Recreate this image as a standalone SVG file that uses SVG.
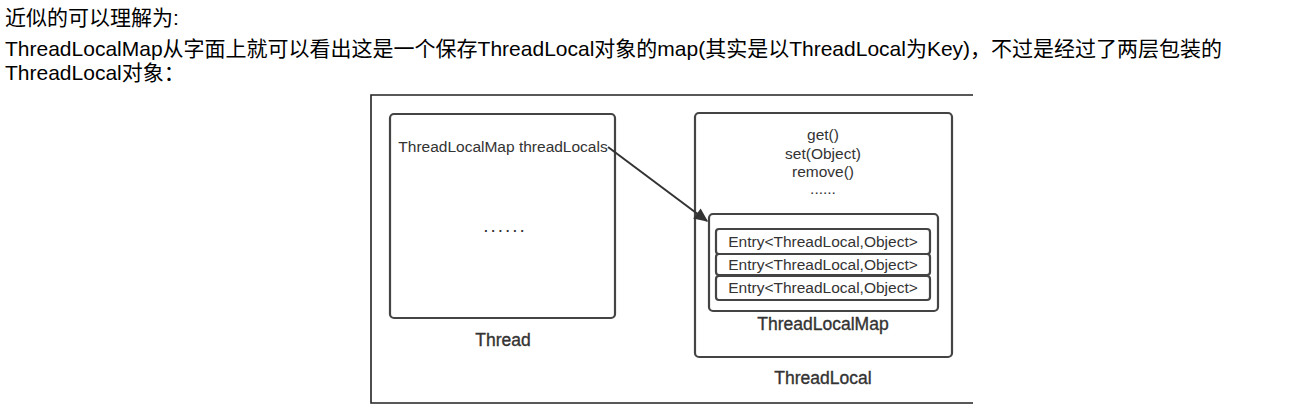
<svg xmlns="http://www.w3.org/2000/svg" width="1313" height="411" viewBox="0 0 1313 411">
<defs>
<style>
.hd{font-family:"Liberation Sans","Noto Sans CJK SC",sans-serif;font-size:21px;fill:#000}
.t{font-family:"Liberation Sans",Arial,sans-serif;fill:#333;text-anchor:middle}
.s{font-size:15.5px}
.l{font-size:17.5px;stroke:#333;stroke-width:0.35}
.box{fill:#fff;stroke:#444;stroke-width:2.2}
.frame{fill:none;stroke:#222;stroke-width:1.6}
.conn{stroke:#333;stroke-width:2;fill:none}
</style>
<marker id="arr" viewBox="0 0 10 10" refX="9" refY="5" markerWidth="8" markerHeight="7" markerUnits="strokeWidth" orient="auto">
<path d="M0,0.5 L10,5 L0,9.5 Z" fill="#333"/>
</marker>
</defs>
<rect width="1313" height="411" fill="#fff"/>
<g id="header">
<text class="hd" x="5" y="25">近似的可以理解为:</text>
<text class="hd" x="5" y="56">ThreadLocalMap从字面上就可以看出这是一个保存ThreadLocal对象的map(其实是以ThreadLocal为Key)，不过是经过了两层包装的</text>
<text class="hd" x="5" y="80">ThreadLocal对象：</text>
</g>
<path class="frame" d="M973,95 H371 V403 H973"/>
<g id="thread">
<rect class="box" x="390" y="114" width="225" height="204" rx="4"/>
<text class="t s" x="503" y="152">ThreadLocalMap threadLocals</text>
<text class="t" x="505" y="232" style="font-size:19px;letter-spacing:2px">......</text>
<text class="t l" x="503" y="346">Thread</text>
</g>
<g id="threadlocal">
<rect class="box" x="695" y="113" width="257" height="244" rx="4"/>
<text class="t s" x="823" y="140">get()</text>
<text class="t s" x="823" y="159">set(Object)</text>
<text class="t s" x="823" y="177">remove()</text>
<text class="t s" x="823" y="194">......</text>
<text class="t l" x="823" y="384">ThreadLocal</text>
</g>
<g id="threadlocalmap">
<rect class="box" x="709" y="214" width="229" height="97" rx="4"/>
<text class="t l" x="823" y="330">ThreadLocalMap</text>
</g>
<g id="entry1">
<rect class="box" x="716" y="229" width="214" height="25" rx="3"/>
<text class="t s" x="823" y="247">Entry&lt;ThreadLocal,Object&gt;</text>
</g>
<g id="entry2">
<rect class="box" x="716" y="254" width="214" height="21" rx="3"/>
<text class="t s" x="823" y="270">Entry&lt;ThreadLocal,Object&gt;</text>
</g>
<g id="entry3">
<rect class="box" x="716" y="276" width="214" height="24" rx="3"/>
<text class="t s" x="823" y="293">Entry&lt;ThreadLocal,Object&gt;</text>
</g>
<g id="connectors">
<line class="conn" x1="608" y1="147" x2="707" y2="221" marker-end="url(#arr)"/>
</g>
</svg>
